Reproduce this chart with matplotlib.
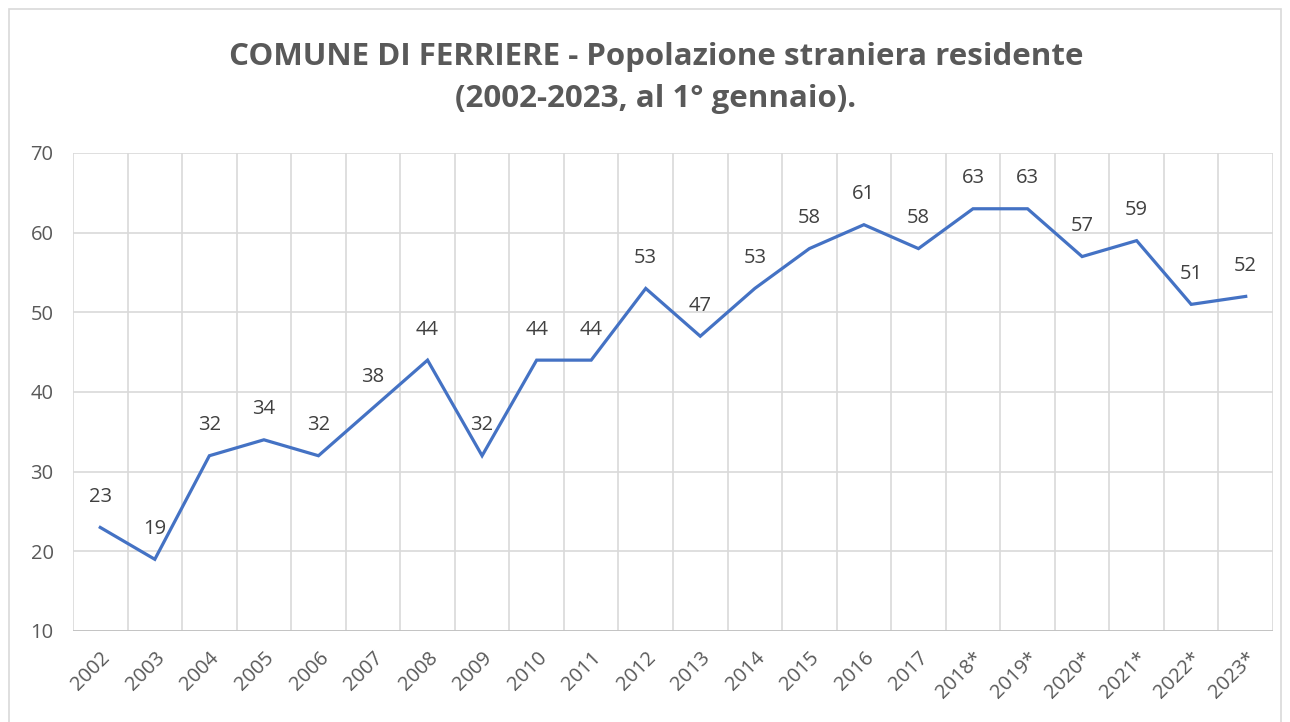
import matplotlib.pyplot as plt
from matplotlib.patches import Rectangle
from matplotlib.transforms import ScaledTranslation

plt.rcParams['font.family'] = ['Open Sans', 'DejaVu Sans']

years = ['2002', '2003', '2004', '2005', '2006', '2007', '2008', '2009', '2010', '2011',
         '2012', '2013', '2014', '2015', '2016', '2017', '2018*', '2019*', '2020*', '2021*',
         '2022*', '2023*']
values = [23, 19, 32, 34, 32, 38, 44, 32, 44, 44, 53, 47, 53, 58, 61, 58, 63, 63, 57, 59, 51, 52]
yticks = [10, 20, 30, 40, 50, 60, 70]

text_col = '#595959'
grid_col = '#D9D9D9'
line_col = '#4472C4'

fig = plt.figure(figsize=(12.9, 7.22), dpi=100)
fig.patches.append(Rectangle((9 / 1290, -0.01), 1 - 18 / 1290, 1 - 9 / 722 + 0.01,
                             transform=fig.transFigure, fill=False,
                             edgecolor='#D9D9D9', linewidth=1.2))

ax = fig.add_axes([73 / 1290, 1 - 631 / 722, 1200 / 1290, 478 / 722])
n = len(years)
x = list(range(n))
ax.plot(x, values, color=line_col, linewidth=2.3, solid_joinstyle='miter')
for xi, v in zip(x, values):
    ax.annotate(str(v), (xi, v), xytext=(0, 22), textcoords='offset points',
                ha='center', va='center', fontsize=14.5, color='#404040')

ax.set_xlim(-0.5, n - 0.5)
ax.set_ylim(10, 70)
ax.set_yticks(yticks)
ax.set_xticks(x)
ax.set_xticklabels(years, rotation=45, ha='right', rotation_mode='anchor')
shift = ScaledTranslation(4 / 100, -4 / 100, fig.dpi_scale_trans)
for lbl in ax.get_xticklabels():
    lbl.set_transform(lbl.get_transform() + shift)
for b in range(n + 1):
    ax.axvline(b - 0.5, color=grid_col, linewidth=1.2, zorder=0)
for yv in yticks:
    ax.axhline(yv, color=grid_col, linewidth=1.2, zorder=0)
ax.axhline(10, color='#BFBFBF', linewidth=1.2, zorder=1)

for s in ax.spines.values():
    s.set_visible(False)
ax.tick_params(axis='both', length=0, labelsize=14.5, colors=text_col)
ax.tick_params(axis='y', pad=14)
ax.tick_params(axis='x', pad=12)

fig.text(656 / 1290, 1 - 57 / 722, 'COMUNE DI FERRIERE - Popolazione straniera residente',
         ha='center', va='center', fontsize=22.5, fontweight='bold', color=text_col)
fig.text(656 / 1290, 1 - 99 / 722, '(2002-2023, al 1° gennaio).',
         ha='center', va='center', fontsize=22.5, fontweight='bold', color=text_col)

fig.savefig('out.png', dpi=100)
